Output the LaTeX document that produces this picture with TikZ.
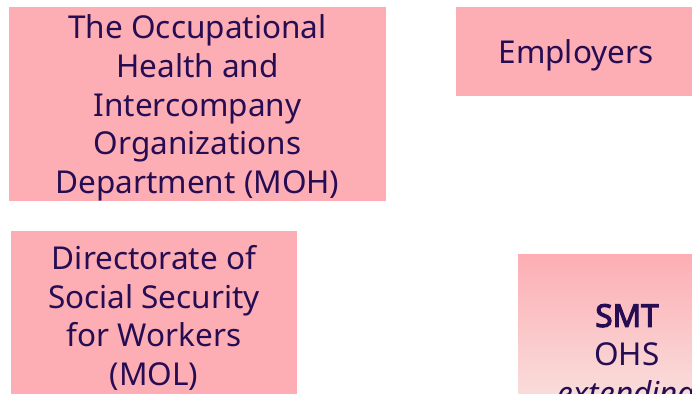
\documentclass[tikz,border=0pt]{standalone}
\usepackage{fontspec}
\setmainfont{Noto Sans}
\newfontfamily\heavyfont[FakeBold=3.6]{Noto Sans}
\definecolor{boxpink}{RGB}{252,174,180}
\definecolor{boxlight}{RGB}{248,240,235}
\definecolor{ink}{RGB}{38,12,82}
\begin{document}
\begin{tikzpicture}[x=1pt,y=-1pt,
  boxtext/.style={align=center,text=ink,inner sep=0pt,
    font=\fontsize{31.5}{38.7}\selectfont}]
\useasboundingbox (0,0) rectangle (692,393);
\clip (0,0) rectangle (692,393);
% backgrounds
\fill[boxpink] (9,7) rectangle (386,201);
\fill[boxpink] (456,7) rectangle (696,96);
\fill[boxpink] (11,231) rectangle (297,397);
\shade[top color=boxpink,bottom color=boxlight] (518,254) rectangle (736,454);
% texts
\node[boxtext] (moh) at (197.5,108)
  {The Occupational\\Health and\\Intercompany\\Organizations\\Department (MOH)};
\node[boxtext] (emp) at (576,55.5) {Employers};
\node[boxtext] (mol) at (154,318)
  {Directorate of\\Social Security\\for Workers\\(MOL)};
\node[boxtext] (smt) at (627,358)
  {{\heavyfont SMT}\\OHS\\\textit{extending}};
\end{tikzpicture}
\end{document}
